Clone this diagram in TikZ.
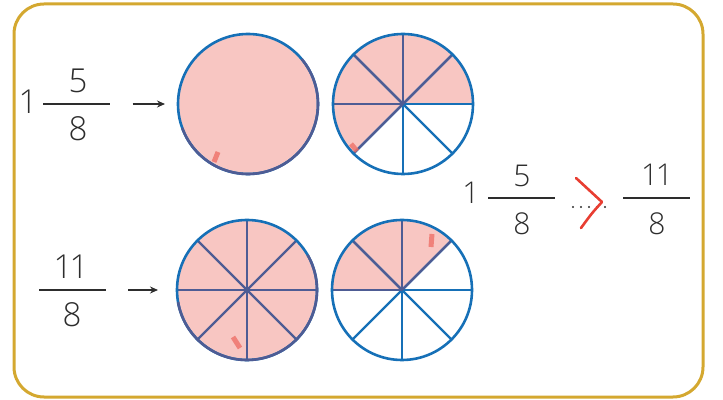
\documentclass[tikz,border=0pt]{standalone}
\usepackage{fontspec}
\IfFontExistsTF{Open Sans Light}{\setmainfont{Open Sans Light}}{\setmainfont{Open Sans}}
\usetikzlibrary{arrows.meta}
\definecolor{rahmen}{RGB}{212,168,48}
\definecolor{kreisblau}{RGB}{22,112,183}
\definecolor{schiefer}{RGB}{78,92,148}
\definecolor{rosa}{RGB}{248,198,194}
\definecolor{stift}{RGB}{238,112,104}
\definecolor{schrift}{RGB}{45,45,45}
\definecolor{rot}{RGB}{232,62,50}

\begin{document}
\begin{tikzpicture}[x=1pt,y=1pt,
		ziffer/.style={text=schrift,inner sep=0pt,font=\fontsize{33}{33}\selectfont},
		zifferklein/.style={ziffer,font=\fontsize{30}{30}\selectfont},
		bruch/.style={fill=schrift,inner sep=0pt,minimum height=1.8pt,minimum width=67pt},
		pfeil/.style={-{Stealth[length=8pt,width=7pt]},line width=1.3pt,schrift},
		kreisnode/.style={circle,minimum size=140pt,inner sep=0pt,outer sep=0pt},
		speiche/.style={line width=2.4pt,kreisblau},
		rand/.style={line width=2.6pt,kreisblau},
		strich/.style={line width=5pt,stift,opacity=0.8}]
	\useasboundingbox (0,0) rectangle (723,399);
	% \draw[style=help lines,step=20] (0,0) grid (723,399);
	\draw[rahmen,line width=3pt,rounded corners=30pt] (14,2) rectangle (703,395);

	% 1 5/8
	\node[ziffer] (e1) at (28,297) {1};
	\node[bruch] (b1) at (76,295) {};
	\node[ziffer] (z1) at (78,318) {5};
	\node[ziffer] (n1) at (78,270) {8};

	% 11/8
	\node[bruch] (b3) at (72.5,109) {};
	\node[ziffer] (z3) at (71,132.5) {1\kern-3pt1};
	\node[ziffer] (n3) at (72,84) {8};

	% Kreise
	\node[kreisnode] (k1) at (248,295) {};
	\node[kreisnode] (k2) at (403,295) {};
	\node[kreisnode] (k3) at (247,109) {};
	\node[kreisnode] (k4) at (402,109) {};

	\fill[rosa] (k1.center) circle[radius=70pt];
	\fill[rosa] (k2.center) -- (k2.0) arc[start angle=0,end angle=225,radius=70pt] -- cycle;
	\fill[rosa] (k3.center) circle[radius=70pt];
	\fill[rosa] (k4.center) -- (k4.45) arc[start angle=45,end angle=180,radius=70pt] -- cycle;

	\foreach \k in {k2,k4}
		\foreach \w in {0,45,...,315}
			\draw[speiche,line cap=round] (\k.center) -- (\k.\w);
	\foreach \w in {45,90,...,225}
		\draw[speiche,schiefer] (k2.center) -- (k2.\w);
	\foreach \w in {0,45,...,315}
		\draw[speiche,schiefer] (k3.center) -- (k3.\w);
	\foreach \w in {45,90,...,180}
		\draw[speiche,schiefer] (k4.center) -- (k4.\w);

	\foreach \k in {k1,k2,k3,k4}
		\draw[rand] (\k.center) circle[radius=70pt];
	\draw[rand,schiefer] (k1.200) arc[start angle=200,end angle=400,radius=70pt];
	\draw[rand,schiefer] (k3.190) arc[start angle=190,end angle=390,radius=70pt];

	% Bleistiftstriche
	\draw[strich] (218,247) -- (214,237);
	\draw[strich] (351,255) -- (357,248);
	\draw[strich] (233,62) -- (240,51);
	\draw[strich] (432,165) -- (431,152);

	\draw[pfeil] ([xshift=23pt]b1.east) -- ([xshift=-13pt]k1.west);
	\draw[pfeil] ([xshift=22pt]b3.east) -- ([xshift=-19pt]k3.west);

	% Vergleich
	\node[zifferklein] (e5) at (471,206) {1};
	\node[bruch] (b5) at (521.5,201) {};
	\node[zifferklein] (z5) at (522,223) {5};
	\node[zifferklein] (n5) at (522,175) {8};

	\node[bruch] (b6) at (656.5,201) {};
	\node[zifferklein] (z6) at (657,224) {1\kern-2.5pt1};
	\node[zifferklein] (n6) at (657,175) {8};

	\foreach \p in {573,581,589,597,605}
		\fill[schrift] (\p,192) circle[radius=1.1pt];
	\draw[rot,line width=2.6pt,line cap=round,line join=round]
		(576,221) -- (602,197) .. controls (592,186) .. (581,171);
\end{tikzpicture}
\end{document}
